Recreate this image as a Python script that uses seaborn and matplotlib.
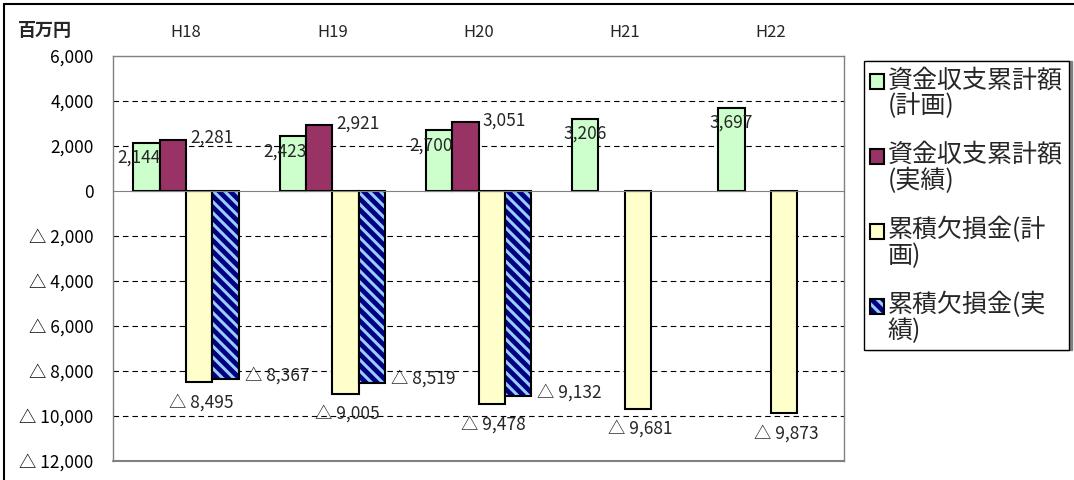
import numpy as np
import pandas as pd
import matplotlib
matplotlib.use('Agg')
import matplotlib.pyplot as plt
import matplotlib.patches as mpatches
from matplotlib.lines import Line2D
from matplotlib.ticker import FuncFormatter
from matplotlib.transforms import Affine2D
from matplotlib.legend_handler import HandlerPatch
import seaborn as sns

# ---------------- data ----------------
years = ['H18', 'H19', 'H20', 'H21', 'H22']
series = ['資金収支累計額\n(計画)', '資金収支累計額\n(実績)',
          '累積欠損金(計\n画)', '累積欠損金(実\n績)']
fund_plan = [2144, 2423, 2700, 3206, 3697]
fund_actual = [2281, 2921, 3051, np.nan, np.nan]
deficit_plan = [-8495, -9005, -9478, -9681, -9873]
deficit_actual = [-8367, -8519, -9132, np.nan, np.nan]
y_ticks = [6000, 4000, 2000, 0, -2000, -4000, -6000, -8000, -10000, -12000]
grid_vals = [4000, 2000, -2000, -4000, -6000, -8000, -10000]
unit_label = '百万円'

colors = ['#CCFFCC', '#993366', '#FFFFCC', '#000080']
hatch_color = '#99CCFF'
GREY = '#808080'
LEG_FS = 18

rows = []
for s, vals in zip(series, [fund_plan, fund_actual, deficit_plan, deficit_actual]):
    for y, v in zip(years, vals):
        if not np.isnan(v):
            rows.append({'year': y, 'series': s, 'value': v})
df = pd.DataFrame(rows)


def fmt(v, pos=None):
    v = int(round(v))
    if v < 0:
        return '△ {:,}'.format(-v)
    return '{:,}'.format(v)


class FirstLinePatchHandler(HandlerPatch):
    """Place the legend square beside the first line of a two-line label."""
    def __init__(self, shift, **kw):
        super().__init__(**kw)
        self.shift = shift

    def create_artists(self, legend, orig_handle, xdescent, ydescent,
                       width, height, fontsize, trans):
        arts = super().create_artists(legend, orig_handle, xdescent, ydescent,
                                      width, height, fontsize, trans)
        for a in arts:
            a.set_transform(Affine2D().translate(0, self.shift) + trans)
        return arts


# ---------------- style ----------------
sns.set_style('white')
plt.rcParams['font.family'] = ['Noto Sans CJK JP', 'DejaVu Sans']
plt.rcParams['hatch.linewidth'] = 2.2

fig = plt.figure(figsize=(10.74, 4.8), dpi=100)
W, H = 1074, 480
ax = fig.add_axes([113 / W, 19 / H, 731 / W, 405 / H])

for g in grid_vals:
    ax.axhline(g, color='black', lw=0.8, ls=(0, (5, 3.5)), zorder=0.5)

sns.barplot(data=df, x='year', y='value', hue='series', order=years,
            hue_order=series, palette=dict(zip(series, colors)),
            width=0.72, saturation=1, edgecolor='black', linewidth=1.5,
            errorbar=None, legend=False, ax=ax)

ax.set_xlim(-0.5, len(years) - 0.5)
ax.set_ylim(min(y_ticks), max(y_ticks))
ax.set_yticks(y_ticks)
ax.yaxis.set_major_formatter(FuncFormatter(fmt))
ax.set_xlabel('')
ax.set_ylabel('')

# hatched "actual deficit" bars
blue = ax.containers[3]
for p in blue.patches:
    p.set_hatch('\\\\\\')
    p.set_edgecolor(hatch_color)
    p.set_linewidth(0)
    ax.add_patch(mpatches.Rectangle((p.get_x(), p.get_y()), p.get_width(),
                                    p.get_height(), fill=False,
                                    edgecolor='black', lw=1.5, zorder=2))

# spines / axes
for side in ['top', 'right', 'left']:
    ax.spines[side].set_color(GREY)
    ax.spines[side].set_linewidth(1)
ax.spines['bottom'].set_position(('data', 0))
ax.spines['bottom'].set_color(GREY)
ax.spines['bottom'].set_zorder(3)
ax.axhline(min(y_ticks), color=GREY, lw=1.5, clip_on=False)

ax.set_xticks([i + 0.5 for i in range(len(years) - 1)])
ax.set_xticklabels([])
ax.tick_params(axis='x', direction='in', length=4, color=GREY, width=1)
ax.tick_params(axis='y', direction='out', length=4, color=GREY, width=1,
               labelsize=12.5, pad=10, labelcolor='black')

sec = ax.secondary_xaxis('top')
sec.set_xticks(range(len(years)), labels=years)
sec.tick_params(length=0, pad=11, labelsize=12)
sec.spines['top'].set_visible(False)

# data labels
for i, cont in enumerate(ax.containers):
    for p, v in zip(cont.patches, cont.datavalues):
        cx = p.get_x() + p.get_width() / 2
        right = p.get_x() + p.get_width()
        end = p.get_y() + p.get_height()
        k = int(round(cx))
        if i == 0:
            dx = -8 if not np.isnan(fund_actual[k]) else 0
            ax.annotate(fmt(v), (cx, end), xytext=(dx, -15),
                        textcoords='offset pixels', ha='center', va='center',
                        fontsize=12.5, zorder=5)
        elif i == 1:
            ax.annotate(fmt(v), (right, end), xytext=(4, 2),
                        textcoords='offset pixels', ha='left', va='center',
                        fontsize=12.5, zorder=5)
        elif i == 2:
            ax.annotate(fmt(v), (cx, end), xytext=(2, -20),
                        textcoords='offset pixels', ha='center', va='center',
                        fontsize=12.5, zorder=5)
        else:
            ax.annotate(fmt(v), (right, end), xytext=(6, 4),
                        textcoords='offset pixels', ha='left', va='center',
                        fontsize=12.5, zorder=5)

fig.text(18 / W, 1 - 30 / H, unit_label, fontsize=13, ha='left', va='center',
         fontweight='bold')

# legend
handles = [
    mpatches.Patch(facecolor=colors[0], edgecolor='black', lw=1.5),
    mpatches.Patch(facecolor=colors[1], edgecolor='black', lw=1.5),
    mpatches.Patch(facecolor=colors[2], edgecolor='black', lw=1.5),
    (mpatches.Patch(facecolor=colors[3], edgecolor=hatch_color,
                    hatch='\\\\\\', lw=0),
     mpatches.Patch(fill=False, edgecolor='black', lw=1.5)),
]
leg = fig.legend(handles, series, loc='upper left',
                 bbox_to_anchor=(864 / W, 1 - 61 / H),
                 bbox_transform=fig.transFigure, borderaxespad=0,
                 fontsize=LEG_FS, frameon=True, fancybox=False,
                 edgecolor='black', handlelength=0.55, handleheight=0.55,
                 handletextpad=0.15, labelspacing=0.9, borderpad=0.25,
                 handler_map={mpatches.Patch: FirstLinePatchHandler(LEG_FS * 0.5)},
                 shadow={'ox': 2, 'oy': 0, 'color': '0.5', 'alpha': 1})
leg.get_frame().set_linewidth(1.0)
for t in leg.get_texts():
    t.set_linespacing(1.0)

# outer chart border (left / top)
fig.add_artist(Line2D([4 / W, 4 / W], [0, 1 - 4 / H], color='black', lw=1.5,
                      transform=fig.transFigure))
fig.add_artist(Line2D([4 / W, 1], [1 - 4 / H, 1 - 4 / H], color='black',
                      lw=1.5, transform=fig.transFigure))

fig.savefig('out.png', dpi=100)
